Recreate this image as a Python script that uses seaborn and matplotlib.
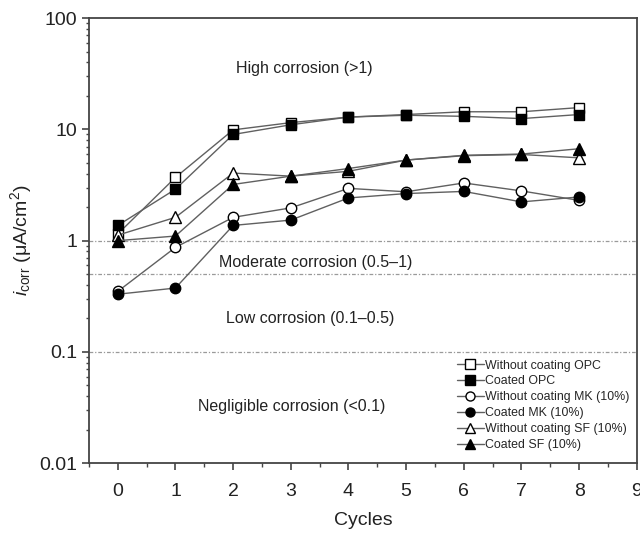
import matplotlib
matplotlib.use("Agg")
import matplotlib.pyplot as plt
import matplotlib.ticker as mticker
import numpy as np
import pandas as pd
import seaborn as sns

# Corrosion current density over wetting/drying cycles
cycles = [0, 1, 2, 3, 4, 5, 6, 7, 8]
opc_uncoated = [1.15, 3.7, 9.9, 11.5, 12.9, 13.6, 14.4, 14.4, 15.7]
opc_coated = [1.37, 2.9, 9.0, 11.0, 12.9, 13.4, 13.1, 12.5, 13.6]
mk_uncoated = [0.35, 0.87, 1.62, 1.97, 2.95, 2.75, 3.3, 2.8, 2.3]
mk_coated = [0.33, 0.375, 1.37, 1.53, 2.42, 2.65, 2.77, 2.23, 2.47]
sf_uncoated = [1.12, 1.62, 4.05, 3.8, 4.2, 5.3, 5.8, 5.95, 5.55]
sf_coated = [1.0, 1.1, 3.2, 3.8, 4.45, 5.3, 5.85, 6.0, 6.7]

series_names = ["Without coating OPC", "Coated OPC",
                "Without coating MK (10%)", "Coated MK (10%)",
                "Without coating SF (10%)", "Coated SF (10%)"]
series_values = [opc_uncoated, opc_coated, mk_uncoated, mk_coated,
                 sf_uncoated, sf_coated]
markers = ["s", "s", "o", "o", "^", "^"]
faces = ["white", "black", "white", "black", "white", "black"]

zone_labels = ["High corrosion (>1)", "Moderate corrosion (0.5\u20131)",
               "Low corrosion (0.1\u20130.5)", "Negligible corrosion (<0.1)"]
zone_limits = [1.0, 0.5, 0.1]
y_ticks = [0.01, 0.1, 1, 10, 100]
y_tick_labels = ["0.01", "0.1", "1", "10", "100"]

df = pd.DataFrame({
    "Cycles": np.tile(cycles, len(series_names)),
    "icorr": np.concatenate(series_values),
    "series": np.repeat(series_names, len(cycles)),
})

sns.set_style("ticks")
plt.rcParams["font.family"] = ["Liberation Sans", "DejaVu Sans"]
plt.rcParams["mathtext.fontset"] = "custom"
plt.rcParams["mathtext.rm"] = "Liberation Sans"
plt.rcParams["mathtext.it"] = "Liberation Sans:italic"

fig = plt.figure(figsize=(6.4, 5.33), dpi=100)
ax = fig.add_axes([0.139, 0.131, 0.856, 0.835])

for y in zone_limits:
    ax.axhline(y, color="#9a9a9a", lw=0.9, ls=(0, (3, 1.5, 1, 1.5)), zorder=1)

for name, mk, fc in zip(series_names, markers, faces):
    sub = df[df["series"] == name]
    sns.lineplot(data=sub, x="Cycles", y="icorr", ax=ax, color="#606060",
                 lw=1.0, marker=mk, markersize=7.5 if mk != "^" else 8,
                 markerfacecolor=fc, markeredgecolor="black",
                 markeredgewidth=1.0, label=name, zorder=3)

ax.set_yscale("log")
ax.set_ylim(0.01, 100)
ax.set_xlim(-0.5, 9)
ax.set_xticks(range(0, 10))
ax.xaxis.set_minor_locator(mticker.MultipleLocator(0.5))
ax.yaxis.set_major_locator(mticker.FixedLocator(y_ticks))
ax.yaxis.set_major_formatter(mticker.FixedFormatter(y_tick_labels))
ax.yaxis.set_minor_locator(mticker.LogLocator(base=10, subs=np.arange(2, 10)))
ax.yaxis.set_minor_formatter(mticker.NullFormatter())

for s in ax.spines.values():
    s.set_visible(True)
    s.set_color("#444444")
    s.set_linewidth(1.3)

ax.tick_params(axis="both", which="major", direction="out", length=5,
               width=1.2, color="#444444", labelsize=14, labelcolor="#222222")
ax.tick_params(axis="x", which="major", pad=9)
ax.tick_params(axis="both", which="minor", direction="out", length=3,
               width=1.0, color="#444444")
ax.tick_params(axis="y", which="minor", length=2.5)

ax.set_xlabel("Cycles", fontsize=14, color="#222222", labelpad=9)
ax.set_ylabel(r"$i_{\mathrm{corr}}$ ($\mathrm{\mu}$A/cm$^2$)", fontsize=14,
              color="#222222", labelpad=4)

zone_pos = [(304, 68), (316, 262), (310, 318), (292, 407)]
for txt, (px, py) in zip(zone_labels, zone_pos):
    fig.text(px / 640, 1 - py / 533, txt, ha="center", va="center",
             fontsize=11.5, color="#222222")

leg = ax.legend(loc="lower right", bbox_to_anchor=(1.0, 0.01), frameon=False,
                fontsize=8.9, handlelength=2.2, handletextpad=0.1,
                labelspacing=0.32, borderaxespad=0.2)
for h in leg.legend_handles:
    h.set_markersize(6.5)

fig.savefig("out.png", dpi=100)
